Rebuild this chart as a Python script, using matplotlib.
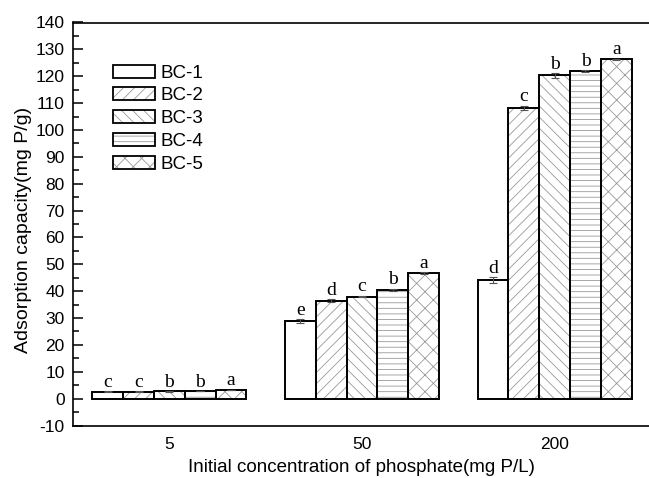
import numpy as np
import matplotlib
matplotlib.use("Agg")
import matplotlib.pyplot as plt
from matplotlib.patches import Patch

# data
concentrations = ["5", "50", "200"]
series = ["BC-1", "BC-2", "BC-3", "BC-4", "BC-5"]
values = [
    [2.6, 28.9, 44.2],
    [2.6, 36.4, 108.3],
    [2.7, 38.0, 120.3],
    [2.8, 40.5, 121.9],
    [3.2, 46.8, 126.3],
]
errors = [
    [0.1, 0.8, 1.0],
    [0.1, 0.5, 0.8],
    [0.1, 0.3, 0.8],
    [0.1, 0.4, 0.3],
    [0.1, 0.3, 0.3],
]
letters = [
    ["c", "e", "d"],
    ["c", "d", "c"],
    ["b", "c", "b"],
    ["b", "b", "b"],
    ["a", "a", "a"],
]
hatches = ["", "///", "\\\\\\", "---", "xx"]

plt.rcParams["font.family"] = ["Liberation Sans", "DejaVu Sans"]
plt.rcParams["hatch.linewidth"] = 0.6
plt.rcParams["axes.unicode_minus"] = False

hatch_grey = "#999999"

fig = plt.figure(figsize=(6.49, 4.78), dpi=100)
ax = fig.add_axes([73 / 649, 52.5 / 478, 578 / 649, 403 / 478])

x = np.arange(len(concentrations))
width = 0.16

handles = []
for i, name in enumerate(series):
    pos = x + (i - 2) * width
    # hatch drawn in grey first, then a black outline on top
    ax.bar(pos, values[i], width, color="white", edgecolor=hatch_grey,
           hatch=hatches[i], linewidth=0, zorder=2)
    ax.bar(pos, values[i], width, fill=False, edgecolor="black",
           linewidth=1.4, zorder=3)
    ax.errorbar(pos, values[i], yerr=errors[i], fmt="none", ecolor="#555555",
                elinewidth=0.8, capsize=3, capthick=0.8, zorder=4)
    for p, v, e, s in zip(pos, values[i], errors[i], letters[i]):
        ax.text(p, v + e + 1.6, s, ha="center", va="baseline",
                fontsize=14, family="Liberation Serif")
    handles.append((Patch(facecolor="white", edgecolor=hatch_grey, hatch=hatches[i], linewidth=0),
                    Patch(fill=False, edgecolor="black", linewidth=1.3)))

ax.legend(handles=handles, labels=series, loc="upper left",
          bbox_to_anchor=(40 / 578, 1 - 42 / 403),
          frameon=False, fontsize=13.5, handlelength=2.24, handleheight=0.7,
          handletextpad=0.3, labelspacing=0.3, borderpad=0, borderaxespad=0)

ax.set_xlim(-0.5, 2.5)
ax.set_ylim(-10, 140)
ax.set_xticks(x)
ax.set_xticklabels(concentrations)
ax.set_yticks(np.arange(-10, 141, 10))
ax.set_yticks(np.arange(-5, 140, 10), minor=True)
ax.tick_params(axis="y", which="major", direction="in", length=7, width=1.1,
               labelsize=12.5, pad=6)
ax.tick_params(axis="y", which="minor", direction="in", length=4, width=1.1)
ax.tick_params(axis="x", length=0, labelsize=12.5, pad=8)
for side in ["left", "bottom", "top", "right"]:
    ax.spines[side].set_linewidth(1.2)

ax.set_xlabel("Initial concentration of phosphate(mg P/L)", fontsize=13.5, va="center")
ax.xaxis.set_label_coords((361 - 73) / 578, (425.5 - 467) / 403)
ax.set_ylabel("Adsorption capacity(mg P/g)", fontsize=14, va="center")
ax.yaxis.set_label_coords((23 - 73) / 578, 0.485)

fig.savefig("out.png", dpi=100)
